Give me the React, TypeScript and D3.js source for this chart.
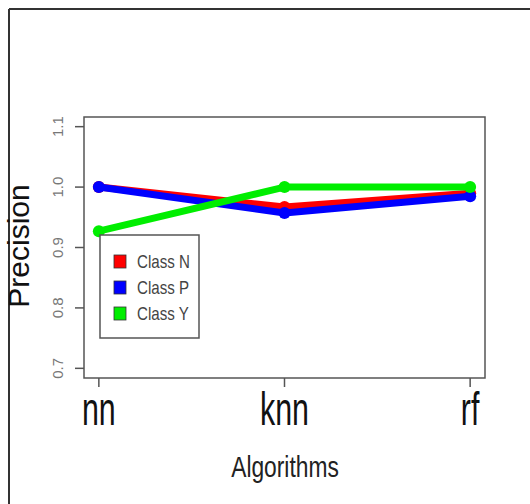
import React from 'react';
import * as d3 from 'd3';

const algorithms = ['nn', 'knn', 'rf'];
const classN = [1.0, 0.967, 0.99];
const classP = [1.0, 0.957, 0.985];
const classY = [0.927, 1.0, 1.0];
const yTicks = [0.7, 0.8, 0.9, 1.0, 1.1];
const seriesNames = ['Class N', 'Class P', 'Class Y'];
const seriesColors = ['#ff0000', '#0000ff', '#00ee00'];

const W = 530;
const H = 504;
const font = "'Liberation Sans', Arial, sans-serif";

// the source image is squashed horizontally, so horizontal text is narrowed
const Narrow: React.FC<{ x: number; y: number; size: number; sx: number; anchor?: string; fill?: string; children: React.ReactNode }> =
  ({ x, y, size, sx, anchor = 'middle', fill = '#111', children }) => (
    <text transform={`translate(${x},${y}) scale(${sx},1)`} textAnchor={anchor}
      fontFamily={font} fontSize={size} fill={fill}>{children}</text>
  );

const App: React.FC = () => {
  const box = { left: 84, right: 485, top: 117, bottom: 378 };

  // R-style 4% padding on both axes
  const x = d3.scaleLinear().domain([0.92, 3.08]).range([box.left, box.right]);
  const y = d3.scaleLinear().domain([0.684, 1.116]).range([box.bottom, box.top]);

  const series = [classN, classP, classY];
  const line = d3.line<number>()
    .x((_, i) => x(i + 1))
    .y(d => y(d));

  return (
    <svg width={W} height={H} style={{ position: 'absolute', left: 0, top: 0, background: '#fff' }}>
      {/* outer frame */}
      <line x1={9} y1={9} x2={W} y2={9} stroke="#333" strokeWidth={2} />
      <line x1={9} y1={9} x2={9} y2={H} stroke="#333" strokeWidth={2} />

      {/* plot box */}
      <rect x={box.left} y={box.top} width={box.right - box.left} height={box.bottom - box.top}
        fill="none" stroke="#555" strokeWidth={1.5} />

      {/* y axis */}
      {yTicks.map(t => (
        <g key={t}>
          <line x1={box.left - 9} x2={box.left} y1={y(t)} y2={y(t)} stroke="#555" strokeWidth={1.5} />
          <text transform={`translate(${63},${y(t)}) rotate(-90)`} textAnchor="middle"
            fontFamily={font} fontSize={15} fill="#777">{t.toFixed(1)}</text>
        </g>
      ))}

      {/* x axis */}
      {algorithms.map((a, i) => (
        <g key={a}>
          <line x1={x(i + 1)} x2={x(i + 1)} y1={box.bottom} y2={box.bottom + 9} stroke="#555" strokeWidth={1.5} />
          <Narrow x={x(i + 1)} y={425} size={46} sx={0.66}>{a}</Narrow>
        </g>
      ))}

      <Narrow x={285} y={477} size={30} sx={0.76} fill="#222">Algorithms</Narrow>
      <text transform={`translate(${29},${246}) rotate(-90)`} textAnchor="middle"
        fontFamily={font} fontSize={30} fill="#111">Precision</text>

      {/* lines */}
      {series.map((s, k) => (
        <g key={seriesNames[k]}>
          <path d={line(s) ?? ''} fill="none" stroke={seriesColors[k]} strokeWidth={7} strokeLinejoin="round" />
          {s.map((v, i) => (
            <circle key={i} cx={x(i + 1)} cy={y(v)} r={6} fill={seriesColors[k]} />
          ))}
        </g>
      ))}

      {/* legend */}
      <rect x={100} y={235} width={99} height={103} fill="#fff" stroke="#555" strokeWidth={1.5} />
      {seriesNames.map((n, k) => (
        <g key={n}>
          <rect x={114} y={255 + k * 26} width={12} height={13} fill={seriesColors[k]} stroke="#333" strokeWidth={0.8} />
          <Narrow x={137} y={268 + k * 26} size={18} sx={0.84} anchor="start" fill="#444">{n}</Narrow>
        </g>
      ))}
    </svg>
  );
};

export default App;
